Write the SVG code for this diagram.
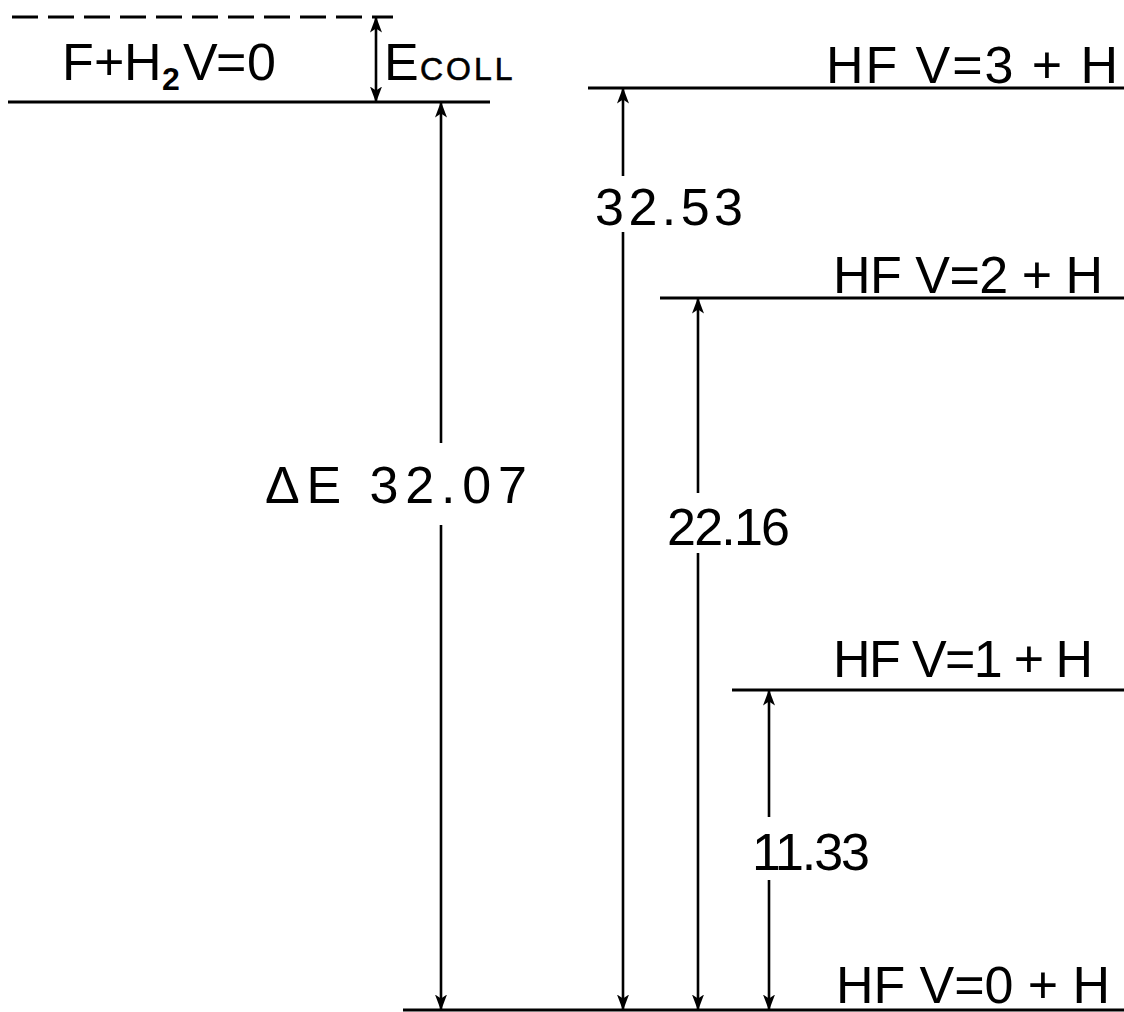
<svg xmlns="http://www.w3.org/2000/svg" width="1124" height="1012" viewBox="0 0 1124 1012">
<defs>
<style>
.lvl{stroke:#000;stroke-width:3;fill:none}
.arr{stroke:#000;stroke-width:2.6;fill:none}
.t{font-family:"Liberation Sans","DejaVu Sans",sans-serif;font-size:52px;fill:#000}
</style>
<marker id="ah" viewBox="0 0 16 12" refX="15.5" refY="6" markerWidth="16" markerHeight="12" markerUnits="userSpaceOnUse" orient="auto-start-reverse">
<path d="M16 6 L0 0 L4 6 L0 12 Z" fill="#000"/>
</marker>
</defs>
<rect width="1124" height="1012" fill="#fff"/>
<g id="levels">
<g id="collision-level"><line class="lvl" x1="12" y1="17" x2="393" y2="17" stroke-dasharray="26 10"/></g>
<g id="reactants"><line class="lvl" x1="8" y1="102" x2="490" y2="102"/>
<text class="t" y="80" font-size="48"><tspan x="62">F</tspan><tspan x="94">+</tspan><tspan x="124">H</tspan><tspan x="162" y="90" font-size="32" font-weight="bold">2</tspan><tspan x="183" y="80">V</tspan><tspan x="216">=</tspan><tspan x="247">0</tspan></text></g>
<g id="hf3"><line class="lvl" x1="588" y1="88" x2="1124" y2="88"/>
<text class="t" x="826" y="83" textLength="292" lengthAdjust="spacing">HF V=3 + H</text></g>
<g id="hf2"><line class="lvl" x1="660" y1="298" x2="1124" y2="298"/>
<text class="t" x="833" y="293" textLength="270" lengthAdjust="spacing">HF V=2 + H</text></g>
<g id="hf1"><line class="lvl" x1="732" y1="690" x2="1124" y2="690"/>
<text class="t" x="833" y="677" textLength="260" lengthAdjust="spacing" font-size="46">HF V=1 + H</text></g>
<g id="hf0"><line class="lvl" x1="403" y1="1010" x2="1124" y2="1010"/>
<text class="t" x="836" y="1003" textLength="274" lengthAdjust="spacing">HF V=0 + H</text></g>
</g>
<g id="connectors">
<g id="ecoll">
<line class="arr" x1="376" y1="17" x2="376" y2="102" marker-start="url(#ah)" marker-end="url(#ah)"/>
<text class="t" y="80"><tspan x="384">E</tspan><tspan x="420" font-size="32" letter-spacing="3" stroke="#000" stroke-width="0.6">COLL</tspan></text>
</g>
<g id="dE">
<line class="arr" x1="441" y1="102" x2="441" y2="443" marker-start="url(#ah)"/>
<line class="arr" x1="441" y1="525" x2="441" y2="1010" marker-end="url(#ah)"/>
<text class="t" x="265" y="503" textLength="262" lengthAdjust="spacing" font-size="54">ΔE  32.07</text>
</g>
<g id="d3">
<line class="arr" x1="623" y1="88" x2="623" y2="176" marker-start="url(#ah)"/>
<line class="arr" x1="623" y1="232" x2="623" y2="1010" marker-end="url(#ah)"/>
<text class="t" x="595" y="225" textLength="148" lengthAdjust="spacing" font-size="53">32.53</text>
</g>
<g id="d2">
<line class="arr" x1="698" y1="298" x2="698" y2="493" marker-start="url(#ah)"/>
<line class="arr" x1="698" y1="553" x2="698" y2="1010" marker-end="url(#ah)"/>
<text class="t" x="667" y="545" textLength="123" lengthAdjust="spacing" font-size="52">22.16</text>
</g>
<g id="d1">
<line class="arr" x1="769" y1="690" x2="769" y2="817" marker-start="url(#ah)"/>
<line class="arr" x1="769" y1="880" x2="769" y2="1010" marker-end="url(#ah)"/>
<text class="t" x="752" y="870" textLength="118" lengthAdjust="spacing" font-size="50">11.33</text>
</g>
</g>
</svg>
